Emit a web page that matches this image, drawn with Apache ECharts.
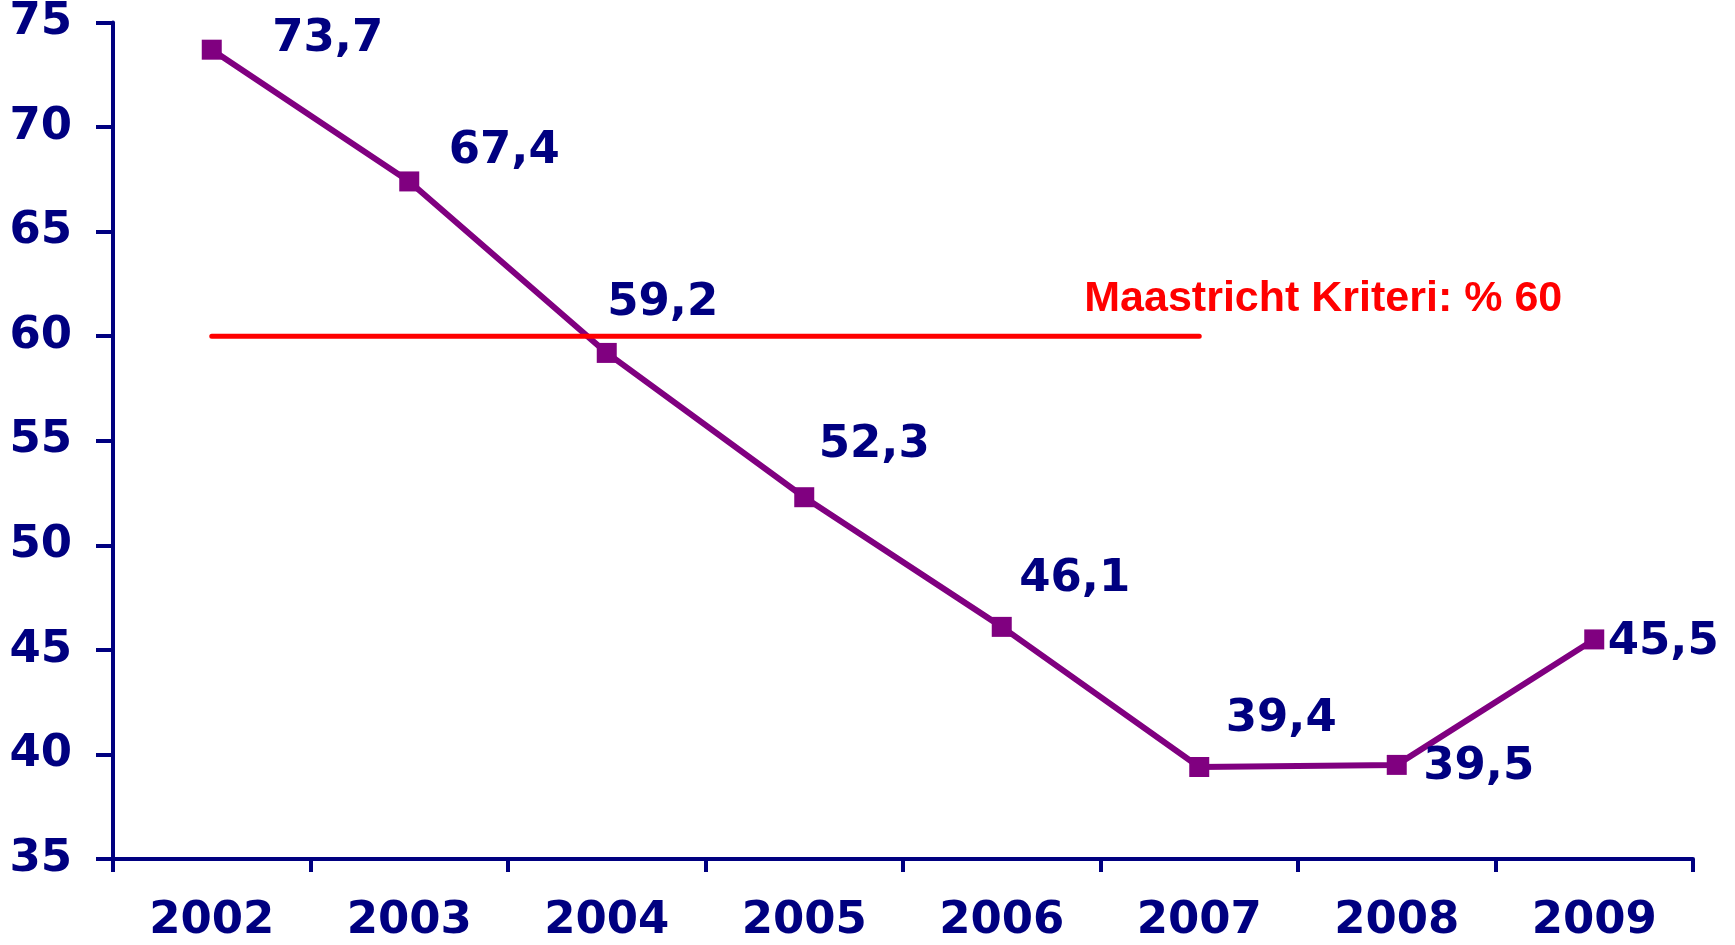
<!DOCTYPE html>
<html>
<head>
<meta charset="utf-8">
<script src="https://cdn.jsdelivr.net/npm/echarts@6/dist/echarts.min.js"></script>
<style>
  html, body { margin: 0; padding: 0; background: #fff; }
  #chart { width: 1735px; height: 945px; }
</style>
</head>
<body>
<div id="chart"></div>
<script>
// data
const years = ['2002', '2003', '2004', '2005', '2006', '2007', '2008', '2009']
const debtRatio = [73.7, 67.4, 59.2, 52.3, 46.1, 39.4, 39.5, 45.5]
const maastrichtLimit = [60, 60, 60, 60, 60, 60, '-', '-']
const limitLabel = 'Maastricht Kriteri: % 60'
const yTicks = { min: 35, max: 75, step: 5 }

// label placement around each point (px)
const labelOffsets = [[116, -10], [95, -30], [56, -50], [70, -52], [73, -48], [82, -48], [82, 2], [69, 3]]

const navy = '#000080'
const purple = '#800080'
const red = '#ff0000'
const numFont = { fontFamily: 'DejaVu Sans', fontWeight: 'bold', fontSize: 45, color: navy }

const chart = echarts.init(document.getElementById('chart'))

const option = {
  animation: false,
  grid: { left: 113, right: 42, top: 19, bottom: 86, containLabel: false },
  xAxis: {
    type: 'category',
    data: years,
    boundaryGap: true,
    axisLine: { lineStyle: { color: navy, width: 4 } },
    axisTick: { show: true, length: 13, lineStyle: { color: navy, width: 4 } },
    axisLabel: { ...numFont, margin: 40 },
    splitLine: { show: false },
  },
  yAxis: {
    type: 'value',
    min: yTicks.min,
    max: yTicks.max,
    interval: yTicks.step,
    axisLine: { show: true, lineStyle: { color: navy, width: 4 } },
    axisTick: { show: true, length: 17, lineStyle: { color: navy, width: 4 } },
    axisLabel: { ...numFont, margin: 41 },
    splitLine: { show: false },
  },
  series: [
    {
      name: 'debt',
      type: 'line',
      z: 2,
      symbol: 'rect',
      symbolSize: 20,
      itemStyle: { color: purple },
      lineStyle: { color: purple, width: 6 },
      data: debtRatio.map((v, i) => ({
        value: v,
        label: {
          show: true,
          position: 'inside',
          offset: labelOffsets[i],
          formatter: (p) => String(p.value).replace('.', ','),
          ...numFont,
        },
      })),
    },
    {
      name: 'limit',
      type: 'line',
      z: 3,
      symbol: 'rect',
      symbolSize: 1,
      itemStyle: { color: red },
      lineStyle: { color: red, width: 5, cap: 'round' },
      data: maastrichtLimit.map((v, i) => {
        if (i !== 5) return v
        return {
          value: v,
          label: {
            show: true,
            position: 'inside',
            offset: [124, -37],
            formatter: limitLabel,
            fontFamily: 'Liberation Sans',
            fontWeight: 'bold',
            fontSize: 43,
            color: red,
          },
        }
      }),
    },
  ],
}

chart.setOption(option)
</script>
</body>
</html>
